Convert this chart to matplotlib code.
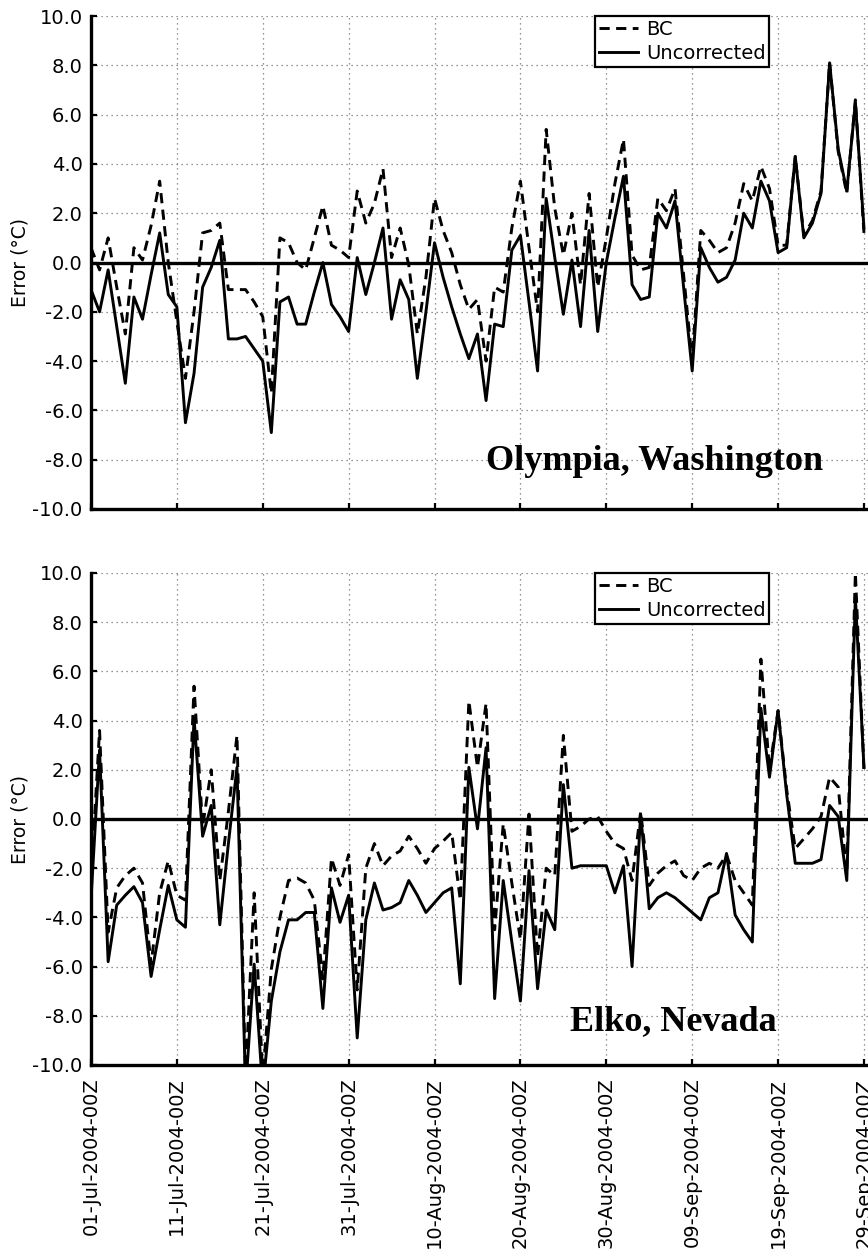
import numpy as np
import pandas as pd
import matplotlib
matplotlib.use("Agg")
import matplotlib.pyplot as plt
import matplotlib.dates as mdates

# daily errors (deg C), 01-Jul-2004 .. 29-Sep-2004
dates = pd.date_range("2004-07-01", periods=91, freq="D")

olympia_bc = [
    0.6, -0.3, 1.0, -1.0, -2.9, 0.6, 0.1, 1.5, 3.3, 0.0,
    -2.4, -4.7, -2.0, 1.2, 1.3, 1.6, -1.1, -1.1, -1.1, -1.6,
    -2.2, -5.3, 1.0, 0.8, 0.0, -0.3, 1.0, 2.3, 0.7, 0.5,
    0.2, 2.9, 1.6, 2.4, 3.8, 0.2, 1.4, -0.1, -2.9, -0.6,
    2.6, 1.3, 0.4, -0.9, -1.9, -1.5, -4.0, -1.0, -1.2, 1.4,
    3.3, 0.6, -2.0, 5.4, 2.2, 0.3, 2.0, -0.9, 2.8, -1.0,
    1.0, 3.2, 5.0, 0.3, -0.3, -0.2, 2.6, 2.1, 3.0, -0.5,
    -4.0, 1.3, 0.9, 0.4, 0.6, 1.6, 3.2, 2.5, 3.9, 3.0,
    0.7, 0.7, 4.3, 1.1, 1.7, 2.9, 8.1, 4.5, 2.8, 6.6,
    1.2,
]
olympia_unc = [
    -1.1, -2.0, -0.3, -2.6, -4.9, -1.4, -2.3, -0.5, 1.2, -1.3,
    -1.8, -6.5, -4.5, -1.0, -0.2, 0.9, -3.1, -3.1, -3.0, -3.5,
    -4.0, -6.9, -1.6, -1.4, -2.5, -2.5, -1.2, 0.0, -1.7, -2.2,
    -2.8, 0.2, -1.3, 0.0, 1.4, -2.3, -0.7, -1.5, -4.7, -2.0,
    0.8, -0.6, -1.8, -2.9, -3.9, -2.9, -5.6, -2.5, -2.6, 0.5,
    1.1, -1.6, -4.4, 2.6, 0.2, -2.1, 0.1, -2.6, 1.3, -2.8,
    0.0, 1.8, 3.5, -0.9, -1.5, -1.4, 2.0, 1.4, 2.5, -1.0,
    -4.4, 0.6, -0.2, -0.8, -0.6, 0.1, 2.0, 1.4, 3.3, 2.5,
    0.4, 0.6, 4.3, 1.0, 1.6, 2.8, 8.1, 4.6, 2.9, 6.5,
    1.4,
]

elko_bc = [
    -2.5, 3.6, -4.6, -2.8, -2.3, -2.0, -2.6, -5.9, -3.0, -1.7,
    -3.1, -3.3, 5.4, -0.3, 2.0, -2.5, 0.3, 3.4, -10.5, -3.0,
    -10.5, -6.1, -4.0, -2.5, -2.4, -2.6, -3.3, -6.5, -1.6, -2.7,
    -1.45, -6.95, -2.0, -1.0, -1.9, -1.5, -1.3, -0.7, -1.2, -1.8,
    -1.2, -0.9, -0.55, -3.3, 4.8, 2.1, 4.7, -4.5, -0.2, -2.6,
    -4.9, 0.2, -5.6, -2.0, -2.3, 3.4, -0.5, -0.3, 0.0, 0.1,
    -0.5, -1.0, -1.2, -2.5, 0.3, -2.7, -2.2, -1.9, -1.7, -2.3,
    -2.5, -2.0, -1.8, -2.0, -1.45, -2.5, -3.0, -3.5, 6.5, 2.0,
    4.4, 1.2, -1.2, -0.8, -0.4, 0.1, 1.7, 1.3, -2.2, 10.0,
    2.0,
]
elko_unc = [
    -3.3, 2.8, -5.8, -3.5, -3.1, -2.75, -3.4, -6.4, -4.5, -2.7,
    -4.1, -4.4, 4.1, -0.7, 0.55, -4.3, -1.0, 2.1, -11.0, -5.9,
    -11.0, -7.4, -5.4, -4.1, -4.1, -3.8, -3.8, -7.7, -2.8, -4.2,
    -3.1, -8.9, -4.1, -2.6, -3.7, -3.6, -3.4, -2.5, -3.1, -3.8,
    -3.4, -3.0, -2.8, -6.7, 2.1, -0.4, 2.9, -7.3, -2.5, -5.0,
    -7.4, -2.1, -6.9, -3.7, -4.5, 1.4, -2.0, -1.9, -1.9, -1.9,
    -1.9, -3.0, -1.9, -6.0, 0.2, -3.65, -3.2, -3.0, -3.2, -3.5,
    -3.8, -4.1, -3.2, -3.0, -1.4, -3.9, -4.5, -5.0, 4.5, 1.7,
    4.4, 1.0, -1.8, -1.8, -1.8, -1.65, 0.55, 0.1, -2.5, 9.0,
    2.1,
]

stations = ["Olympia, Washington", "Elko, Nevada"]
yticks = np.arange(-10, 10.1, 2)

plt.rcParams["axes.unicode_minus"] = False
plt.rcParams["font.family"] = "DejaVu Sans"

fig = plt.figure(figsize=(8.68, 12.5), dpi=100)
ax_top = fig.add_axes([0.1048, 0.5928, 0.8952, 0.3944])
ax_bot = fig.add_axes([0.1048, 0.148, 0.8952, 0.3936])

x_end = dates[0] + pd.Timedelta(days=90.47)
tick_dates = pd.date_range("2004-07-01", periods=10, freq="10D")

for ax, bc, unc, name, tx, ty in [
    (ax_top, olympia_bc, olympia_unc, stations[0], 0.942, 0.079),
    (ax_bot, elko_bc, elko_unc, stations[1], 0.883, 0.071),
]:
    ax.plot(dates, bc, color="black", lw=2.1, dashes=(3.5, 2.2), label="BC")
    ax.plot(dates, unc, color="black", lw=2.1, label="Uncorrected")
    ax.axhline(0, color="black", lw=2.4, zorder=1)

    ax.set_xlim(dates[0], x_end)
    ax.set_ylim(-10, 10)
    ax.set_yticks(yticks)
    ax.set_xticks(tick_dates)
    ax.yaxis.set_major_formatter(matplotlib.ticker.FormatStrFormatter("%.1f"))
    ax.xaxis.set_major_formatter(mdates.DateFormatter("%d-%b-%Y-00Z"))
    ax.grid(True, color="0.45", lw=0.9, linestyle=(0, (1, 3)))
    ax.set_axisbelow(True)

    for side in ["top", "right"]:
        ax.spines[side].set_visible(False)
    for side in ["left", "bottom"]:
        ax.spines[side].set_linewidth(2.4)

    ax.tick_params(direction="in", length=4, width=1.6, labelsize=14)
    ax.tick_params(axis="y", pad=6)
    ax.tick_params(axis="x", pad=9, labelrotation=90)
    ax.set_ylabel("Error (°C)", fontsize=13.5, labelpad=2)

    ax.text(tx, ty, name, transform=ax.transAxes, ha="right", va="baseline",
            fontsize=26, fontweight="bold", family="Liberation Serif")

    leg = ax.legend(loc="upper left", bbox_to_anchor=(0.649, 1.0), fontsize=14,
                    frameon=True, fancybox=False, framealpha=1, edgecolor="black",
                    handlelength=2.0, handletextpad=0.4, labelspacing=0.25,
                    borderpad=0.2, borderaxespad=0.0)
    leg.get_frame().set_linewidth(1.6)

ax_top.tick_params(axis="x", labelbottom=False)

fig.savefig("out.png", dpi=100)
